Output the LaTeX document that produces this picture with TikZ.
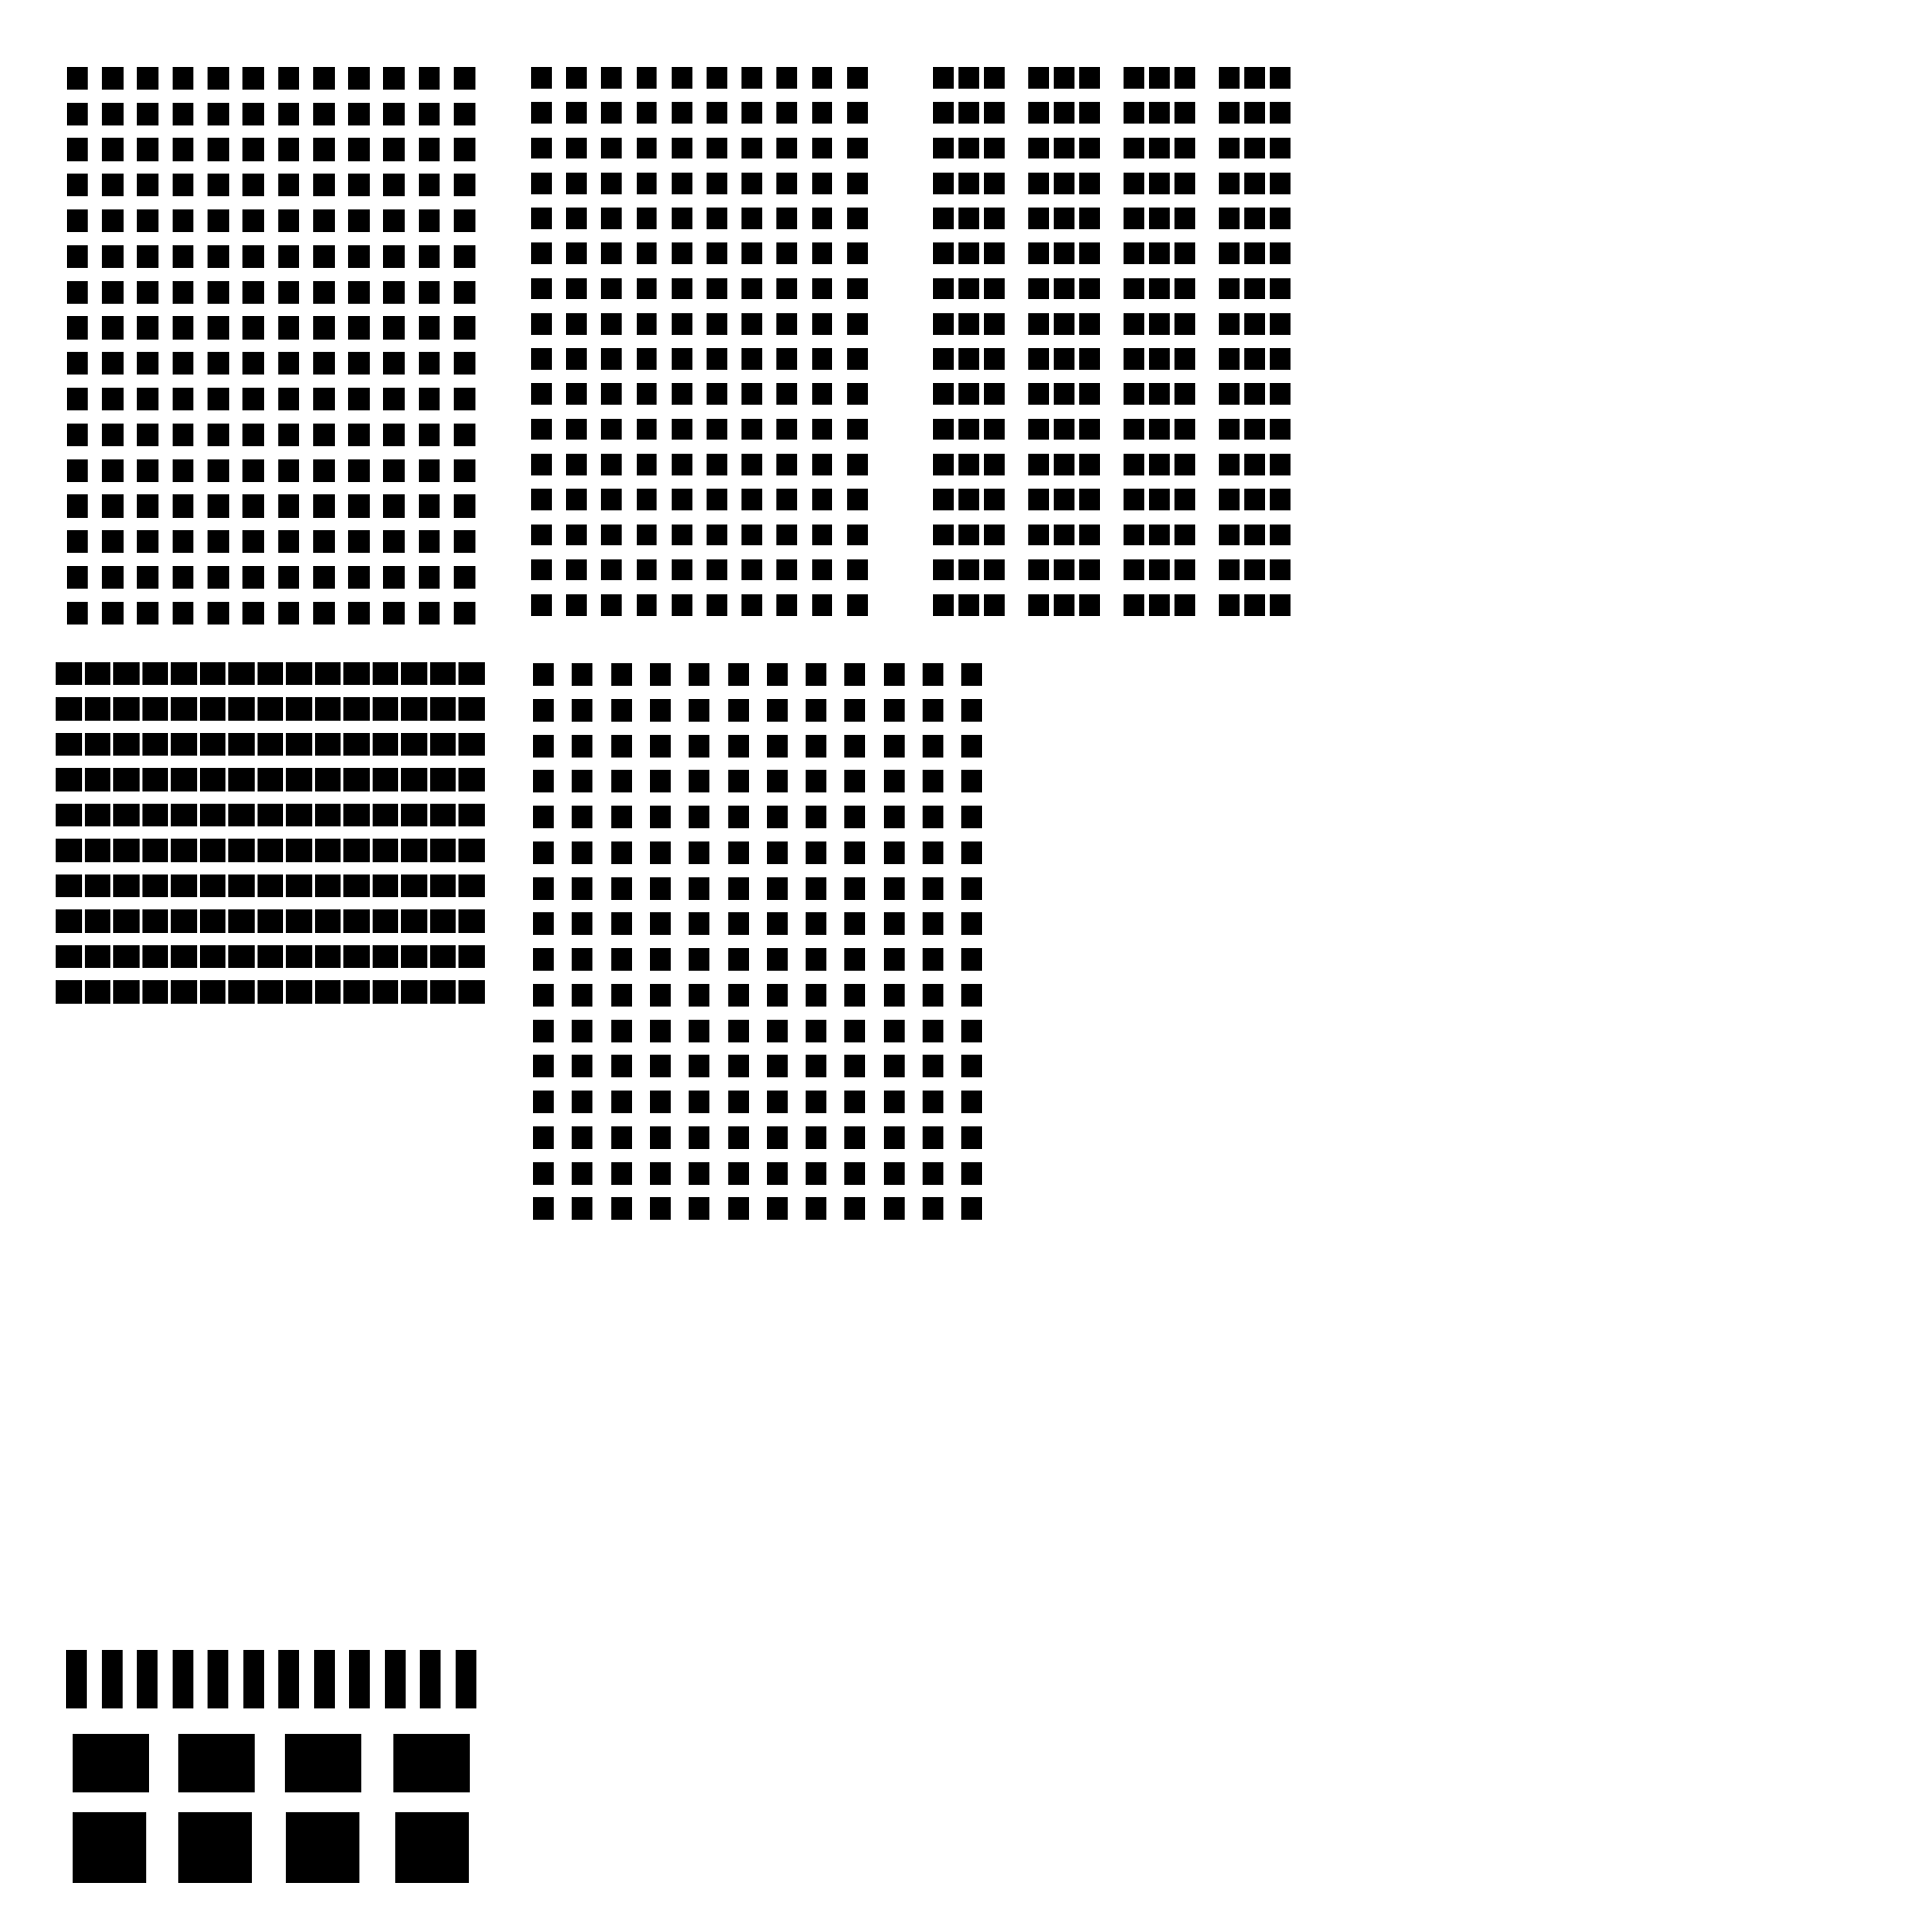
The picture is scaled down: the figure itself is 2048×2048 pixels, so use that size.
\documentclass[tikz,border=0pt]{standalone}

\begin{document}
\begin{tikzpicture}[x=0.01cm, y=-0.01cm, cell/.style={fill=black}]
    % Fix the page size
    \useasboundingbox (0,0) rectangle (2048,2048);

    % Draw the first grid, 12 by 16
    \foreach \i in {0,...,11}
      \foreach \j in {0,...,15}
        \fill[cell] ({70.7+37.3*\i},{70.7+37.8*\j}) rectangle ++(22.7,24.3);

    % Draw the second grid, 10 by 16
    \foreach \i in {0,...,9}
      \foreach \j in {0,...,15}
        \fill[cell] ({563+37.2*\i},{71+37.27*\j}) rectangle ++(21.7,22.7);

    % Draw the grouped grid, 4 groups of 3
    \foreach \g in {0,...,3}
      \foreach \k in {0,1,2}
        \foreach \j in {0,...,15}
          \fill[cell] ({989+101*\g+27*\k},{71+37.27*\j}) rectangle ++(21.7,22.7);

    % Draw the tight grid, 15 by 10
    \foreach \i in {0,...,14}
      \foreach \j in {0,...,9}
        \fill[cell] ({59+30.5*\i},{701.7+37.5*\j}) rectangle ++(27.7,24.3);

    % Draw the wide grid, 12 by 16
    \foreach \i in {0,...,11}
      \foreach \j in {0,...,15}
        \fill[cell] ({565+41.3*\i},{703+37.75*\j}) rectangle ++(22,24);

    % Draw the bars
    \foreach \i in {0,...,11}
      \fill[cell] ({70+37.5*\i},1749) rectangle ++(22,61.7);

    % Draw the big squares
    \foreach \x in {77,189,302,417}
      \fill[cell] (\x,1838) rectangle ++(80.7,62.3);
    \foreach \x in {77,189,303.3,419.3}
      \fill[cell] (\x,1921.3) rectangle ++(78,74.3);

\end{tikzpicture}
\end{document}
